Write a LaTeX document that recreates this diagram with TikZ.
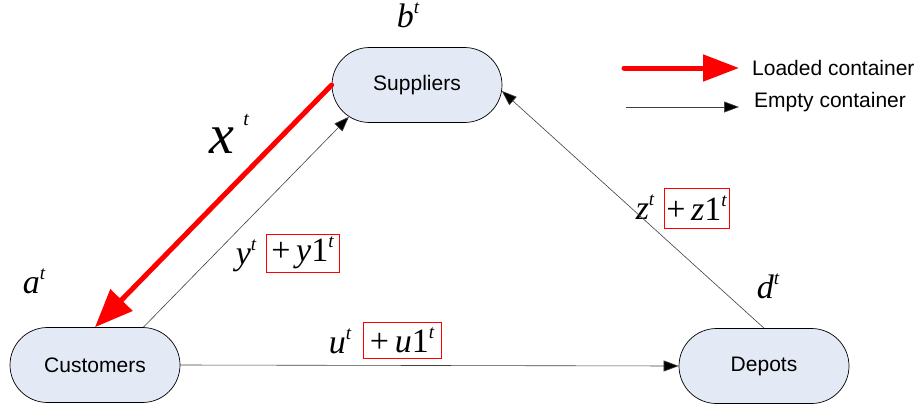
\documentclass[tikz,border=0pt]{standalone}
\usepackage{fontspec}
\setmainfont{Liberation Sans}
\newfontfamily\tnr{Liberation Serif}
\usetikzlibrary{arrows.meta,shapes.misc}
\definecolor{nodefill}{HTML}{E4EAF5}
\newcommand{\supt}{\raisebox{0.42em}{\fontsize{19}{19}\selectfont\itshape t}}
\newcommand{\iv}[1]{{\itshape #1}\supt}
\begin{document}
\begin{tikzpicture}[x=1pt,y=-1pt,
  place/.style={rounded rectangle, draw=black, line width=0.7pt, fill=nodefill,
    minimum width=170pt, minimum height=75pt, inner sep=0pt,
    font=\fontsize{21}{24}\selectfont},
  loaded/.style={draw=red, line width=5pt, line cap=round,
    -{Triangle[length=38pt,width=30pt]}},
  empty/.style={draw=black!75, line width=0.6pt,
    -{Triangle[length=15pt,width=11pt,fill=black]}},
  varlab/.style={font=\tnr\fontsize{34}{36}\selectfont, inner sep=0pt},
  boxlab/.style={draw=red, line width=1pt, inner sep=0pt, font=\tnr\fontsize{34}{36}\selectfont},
  legtext/.style={anchor=west, inner sep=0pt, font=\fontsize{21}{24}\selectfont}]
\useasboundingbox (0,0) rectangle (920,407);

\node[place] (sup) at (417,85) {Suppliers};
\node[place] (cus) at (95,365) {Customers};
\node[place] (dep) at (764,366) {Depots};

% labels
\node[varlab] (bt) at (408,15) {\iv{b}};
\node[varlab] (at) at (34,281) {\iv{a}};
\node[varlab] (dt) at (768,286) {\iv{d}};
\node[font=\tnr\fontsize{56}{58}\selectfont, inner sep=0pt] (xt) at (229,134)
  {\itshape x\,\raisebox{0.5em}{\fontsize{20}{20}\selectfont t}};

\node[varlab] (yt) at (246,256) {\iv{y}};
\node[boxlab, minimum width=73pt, minimum height=38pt] (yb) at (302.5,253) {+\,{\itshape y}1\supt};
\node[varlab] (zt) at (645,207) {\iv{z}};
\node[boxlab, minimum width=65pt, minimum height=40pt] (zb) at (696.5,208) {+\,{\itshape z}1\supt};
\node[varlab] (ut) at (340,341) {\iv{u}};
\node[boxlab, minimum width=78pt, minimum height=36pt] (ub) at (402,340) {+\,{\itshape u}1\supt};

% connectors
\draw[loaded] (sup.west) -- (cus.north);
\draw[empty] (cus.38) -- (sup.205);
\draw[empty] (dep.north) -- (sup.-4);
\draw[empty] (cus.east) -- (dep.west);

% legend
\coordinate (l1a) at (624,68);
\coordinate (l1b) at (739,68);
\coordinate (l2a) at (626,107);
\coordinate (l2b) at (739,107);
\draw[loaded, -{Triangle[length=36pt,width=26pt]}] (l1a) -- (l1b);
\draw[empty] (l2a) -- (l2b);
\node[legtext] (lt1) at (752,68) {Loaded container};
\node[legtext] (lt2) at (754,102) {Empty container};
\end{tikzpicture}
\end{document}
